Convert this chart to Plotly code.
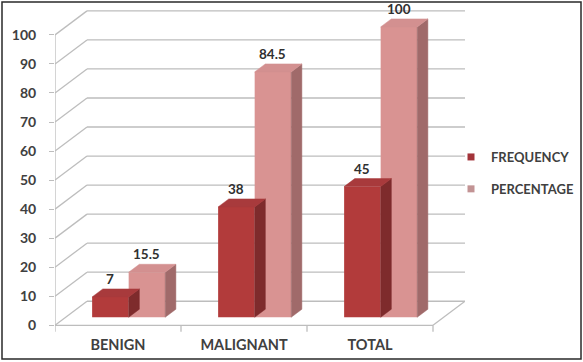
import plotly.graph_objects as go

# ---- data -------------------------------------------------------------
categories = ["BENIGN", "MALIGNANT", "TOTAL"]
frequency = [7, 38, 45]
percentage = [15.5, 84.5, 100]
series_names = ["FREQUENCY", "PERCENTAGE"]
y_ticks = [0, 10, 20, 30, 40, 50, 60, 70, 80, 90, 100]

# ---- geometry / style ---------------------------------------------------
W, H = 583, 362
ML, MR, MT, MB = 55, 118, 5, 28
PW, PH = W - ML - MR, H - MT - MB

DEPTH_X = 0.254          # oblique depth of the chart box (category units)
DEPTH_Y = 8.28           # oblique depth of the chart box (value units)
BAR_W = 0.29             # width of one bar (category units)
X_MIN = -0.5
X_MAX = len(categories) - 0.5 + DEPTH_X
Y_MIN, Y_MAX = -3, 110.3

# bars sit in the middle third of the depth
DX1, DY1 = DEPTH_X / 3, DEPTH_Y / 3
DXB, DYB = DEPTH_X / 3, DEPTH_Y / 3

GRID = "#BDBDBD"
TEXT = "#404040"
FONT = "Lato"

COLORS = {
    "FREQUENCY": dict(front="#B23B3B", top="#A83A3C", side="#7E2B2C", key="#A3343A"),
    "PERCENTAGE": dict(front="#D99392", top="#D39090", side="#A06A6A", key="#C29394"),
}


def px_x(p):
    return (p - ML) / PW


def px_y(p):
    return 1 - (p - MT) / PH


fig = go.Figure()

xpos = list(range(len(categories)))


def add_series(values, name, offset):
    c = COLORS[name]
    tops_x, tops_y, side_x, side_y = [], [], [], []
    for i, v in zip(xpos, values):
        l = i + offset + DX1
        r = l + BAR_W
        y0 = DY1
        y1 = v + DY1
        tops_x += [l, r, r + DXB, l + DXB, l, None]
        tops_y += [y1, y1, y1 + DYB, y1 + DYB, y1, None]
        side_x += [r, r, r + DXB, r + DXB, r, None]
        side_y += [y0, y1, y1 + DYB, y0 + DYB, y0, None]
    fig.add_trace(go.Scatter(x=side_x, y=side_y, fill="toself", mode="lines",
                             fillcolor=c["side"], line=dict(color=c["side"], width=0.5),
                             hoverinfo="skip", showlegend=False))
    fig.add_trace(go.Scatter(x=tops_x, y=tops_y, fill="toself", mode="lines",
                             fillcolor=c["top"], line=dict(color=c["top"], width=0.5),
                             hoverinfo="skip", showlegend=False))
    fig.add_trace(go.Bar(x=xpos, y=values, base=DY1, offset=offset + DX1, width=BAR_W,
                         marker=dict(color=c["front"], line=dict(width=0)),
                         name=name, showlegend=False))
    # legend key
    fig.add_trace(go.Scatter(x=[None], y=[None], mode="markers", name=name,
                             legendgroup=name,
                             marker=dict(symbol="square", size=7, color=c["key"])))
    for i, v in zip(xpos, values):
        fig.add_annotation(x=i + offset + DX1 + BAR_W / 2, y=v + DY1 + DYB,
                           text=f"{v:g}", showarrow=False, yanchor="bottom",
                           font=dict(family=FONT, size=13.5, color="#303030", weight="bold"))


add_series(frequency, series_names[0], -BAR_W)
add_series(percentage, series_names[1], 0.0)

shapes = []
line = dict(color=GRID, width=1.3)
# back wall grid lines and side wall diagonals
for t in y_ticks:
    shapes.append(dict(type="line", xref="x", yref="y", layer="below",
                       x0=X_MIN + DEPTH_X, x1=X_MAX, y0=t + DEPTH_Y, y1=t + DEPTH_Y, line=line))
    shapes.append(dict(type="line", xref="x", yref="y", layer="below",
                       x0=X_MIN, x1=X_MIN + DEPTH_X, y0=t, y1=t + DEPTH_Y, line=line))
# value axis line
shapes.append(dict(type="line", xref="x", yref="y", layer="below",
                   x0=X_MIN, x1=X_MIN, y0=0, y1=y_ticks[-1], line=line))
# floor
x_end = len(categories) - 0.5
shapes.append(dict(type="line", xref="x", yref="y", layer="below",
                   x0=X_MIN, x1=x_end, y0=0, y1=0, line=line))
shapes.append(dict(type="line", xref="x", yref="y", layer="below",
                   x0=x_end, x1=x_end + DEPTH_X, y0=0, y1=DEPTH_Y, line=line))
# category separators
for k in range(len(categories) + 1):
    xb = X_MIN + k
    shapes.append(dict(type="line", xref="x", yref="y", layer="below",
                       x0=xb, x1=xb, y0=0, y1=-2.2, line=line))
# chart border
shapes.append(dict(type="rect", xref="paper", yref="paper",
                   x0=px_x(2), x1=px_x(581), y0=px_y(359), y1=px_y(2),
                   line=dict(color="#2a2a2a", width=1.5)))

fig.update_layout(
    width=W, height=H,
    margin=dict(l=ML, r=MR, t=MT, b=MB, autoexpand=False),
    paper_bgcolor="white", plot_bgcolor="white",
    barmode="overlay",
    shapes=shapes,
    font=dict(family=FONT, size=13, color=TEXT),
    xaxis=dict(range=[X_MIN, X_MAX], tickvals=xpos, ticktext=categories,
               showgrid=False, zeroline=False, showline=False, ticks="",
               tickfont=dict(family=FONT, size=14.5, color=TEXT, weight="bold")),
    yaxis=dict(range=[Y_MIN, Y_MAX], tickvals=y_ticks, showgrid=False, zeroline=False,
               showline=False, ticks="outside", ticklen=5, tickcolor=GRID,
               ticklabelstandoff=10,
               tickfont=dict(family=FONT, size=14, color=TEXT, weight="bold")),
    legend=dict(x=px_x(451), y=px_y(173), xanchor="left", yanchor="middle",
                traceorder="grouped", tracegroupgap=12, itemwidth=30,
                font=dict(family=FONT, size=13, color=TEXT, weight="bold"),
                bgcolor="rgba(0,0,0,0)"),
    hovermode=False,
)

fig.write_html("out.html")
